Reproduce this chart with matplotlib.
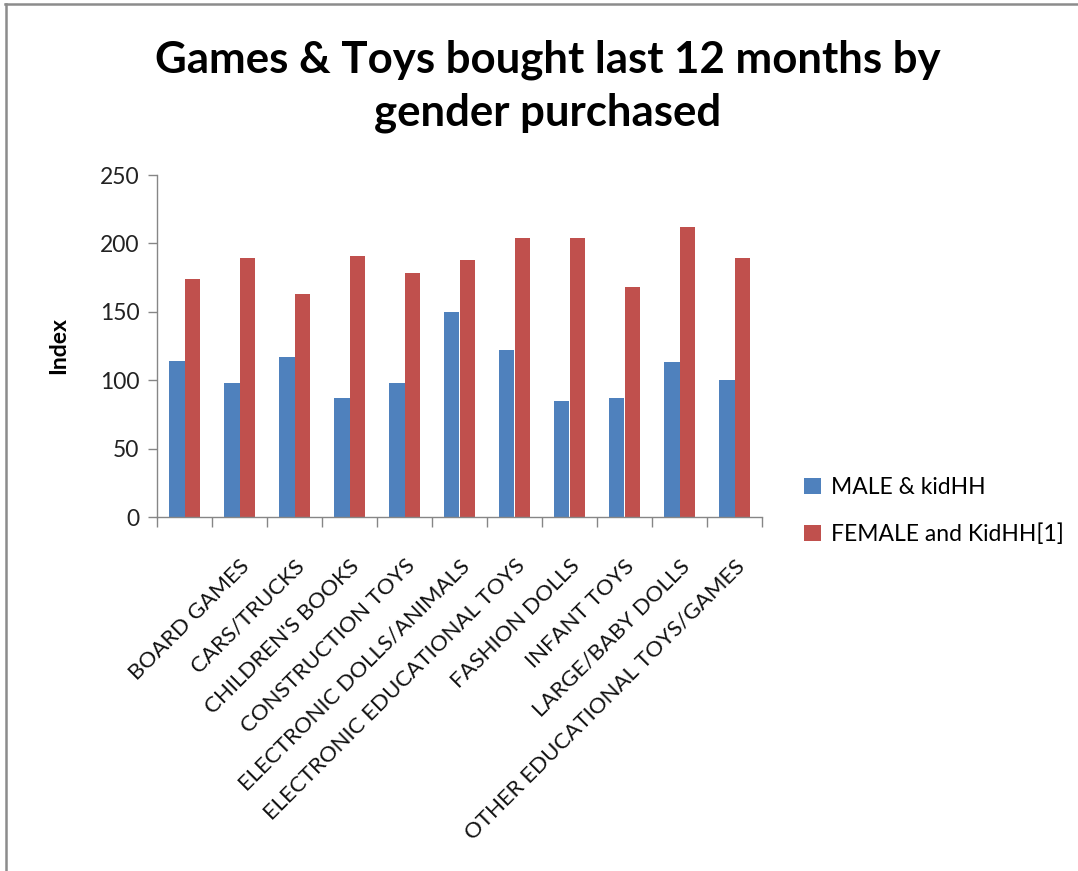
import matplotlib.pyplot as plt
import matplotlib.lines as mlines
import numpy as np

plt.rcParams['font.family'] = ['Lato', 'DejaVu Sans']

# first category has no label in the source sheet
categories = ['', 'BOARD GAMES', 'CARS/TRUCKS', "CHILDREN'S BOOKS", 'CONSTRUCTION TOYS',
              'ELECTRONIC DOLLS/ANIMALS', 'ELECTRONIC EDUCATIONAL TOYS', 'FASHION DOLLS',
              'INFANT TOYS', 'LARGE/BABY DOLLS', 'OTHER EDUCATIONAL TOYS/GAMES']
male_kid = [114, 98, 117, 87, 98, 150, 122, 85, 87, 113, 100]
female_kid = [174, 189, 163, 191, 178, 188, 204, 204, 168, 212, 189]
series_names = ['MALE & kidHH', 'FEMALE and KidHH[1]']
yticks = [0, 50, 100, 150, 200, 250]

blue = '#4F81BD'
red = '#C0504D'
axis_grey = '#868686'

fig = plt.figure(figsize=(10.78, 8.71), dpi=100)
ax = fig.add_axes([157 / 1078, 1 - 517 / 871, (762 - 157) / 1078, (517 - 175) / 871])

x = np.arange(len(categories))
w = 1 / 3.5  # gap width 150%
b1 = ax.bar(x - w / 2, male_kid, w, color=blue, label=series_names[0])
b2 = ax.bar(x + w / 2, female_kid, w, color=red, label=series_names[1])

ax.set_xlim(-0.5, len(categories) - 0.5)
ax.set_ylim(0, 250)
ax.set_yticks(yticks)
ax.set_yticklabels([str(t) for t in yticks], fontsize=16.5, color='#222222')
ax.tick_params(axis='y', length=6.5, width=1, color=axis_grey, pad=6)

ax.set_xticks(x)
ax.set_xticklabels(categories, fontsize=16, rotation=45, ha='right',
                   rotation_mode='anchor', color='#111111')
ax.tick_params(axis='x', length=0, pad=28)
ax.set_xticks(np.arange(-0.5, len(categories)), minor=True)
ax.tick_params(axis='x', which='minor', length=7, width=1, color=axis_grey)

for s in ['top', 'right']:
    ax.spines[s].set_visible(False)
for s in ['left', 'bottom']:
    ax.spines[s].set_color(axis_grey)
    ax.spines[s].set_linewidth(1)

ax.set_ylabel('Index', fontsize=16.5, fontweight='bold', labelpad=22)

fig.text(548 / 1078, 1 - 86.5 / 871, 'Games & Toys bought last 12 months by\ngender purchased',
         ha='center', va='center', fontsize=31.5, fontweight='bold', linespacing=1.38)

fig.legend(handles=[b1, b2], loc='center left', bbox_to_anchor=(783 / 1078, 1 - 511 / 871),
           frameon=False, fontsize=16.5, handlelength=0.75, handleheight=0.75,
           handletextpad=0.45, labelspacing=1.1)

# frame lines along the top and left edge
fig.add_artist(mlines.Line2D([5 / 1078, 1], [1 - 4 / 871, 1 - 4 / 871], color='#8c8c8c', lw=1.8))
fig.add_artist(mlines.Line2D([6 / 1078, 6 / 1078], [0, 1 - 4 / 871], color='#8c8c8c', lw=1.8))

fig.savefig('out.png', dpi=100)
